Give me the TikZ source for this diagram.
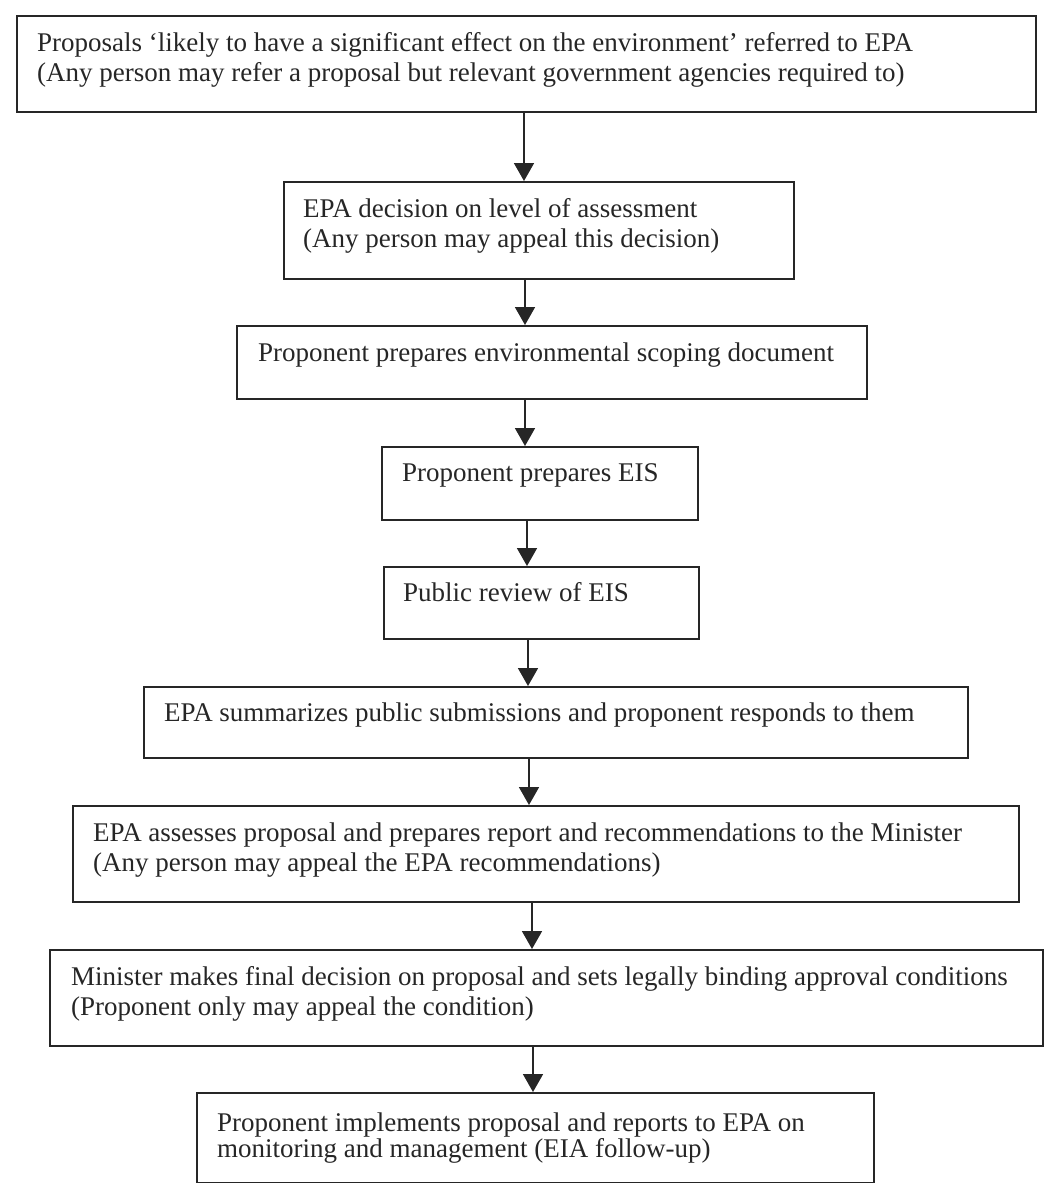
\documentclass[tikz,border=0pt]{standalone}
\usepackage{fontspec}
\setmainfont{Liberation Serif}
\usetikzlibrary{arrows.meta}
\definecolor{ink}{HTML}{262626}
\tikzset{
  stepbox/.style={draw=ink, line width=1.8pt, rectangle, inner sep=0pt, anchor=north west},
  steptext/.style={anchor=base west, inner sep=0pt, text=ink, font=\fontsize{27}{30}\selectfont},
  tighttext/.style={steptext, font=\fontsize{27}{25}\selectfont},
  flow/.style={draw=ink, line width=1.8pt, -{Triangle[length=18pt,width=20pt]}},
}
\newcommand{\lines}[1]{\begin{tabular}[t]{@{}l@{}}#1\end{tabular}}
\begin{document}
\begin{tikzpicture}[x=1pt,y=-1pt]
\useasboundingbox (0,0) rectangle (1047,1183);

% process steps, top to bottom
\node[stepbox, minimum width=1019pt, minimum height=96pt] (b1) at (16,15) {};
\node[steptext] (t1) at ([xshift=21pt,yshift=-36pt]b1.north west)
  {\lines{Proposals ‘likely to have a significant effect on the environment’ referred to EPA\\
          (Any person may refer a proposal but relevant government agencies required to)}};

\node[stepbox, minimum width=510pt, minimum height=97pt] (b2) at (283,181) {};
\node[steptext] (t2) at ([xshift=20pt,yshift=-36pt]b2.north west)
  {\lines{EPA decision on level of assessment\\ (Any person may appeal this decision)}};

\node[stepbox, minimum width=630pt, minimum height=73pt] (b3) at (236,325) {};
\node[steptext] (t3) at ([xshift=22pt,yshift=-36pt]b3.north west)
  {Proponent prepares environmental scoping document};

\node[stepbox, minimum width=316pt, minimum height=73pt] (b4) at (381,446) {};
\node[steptext] (t4) at ([xshift=21pt,yshift=-35pt]b4.north west)
  {Proponent prepares EIS};

\node[stepbox, minimum width=315pt, minimum height=72pt] (b5) at (383,566) {};
\node[steptext] (t5) at ([xshift=20pt,yshift=-35pt]b5.north west)
  {Public review of EIS};

\node[stepbox, minimum width=824pt, minimum height=71pt] (b6) at (143,686) {};
\node[steptext] (t6) at ([xshift=21pt,yshift=-35pt]b6.north west)
  {EPA summarizes public submissions and proponent responds to them};

\node[stepbox, minimum width=946pt, minimum height=96pt] (b7) at (72,805) {};
\node[steptext] (t7) at ([xshift=21pt,yshift=-36pt]b7.north west)
  {\lines{EPA assesses proposal and prepares report and recommendations to the Minister\\
          (Any person may appeal the EPA recommendations)}};

\node[stepbox, minimum width=993pt, minimum height=96pt] (b8) at (49,949) {};
\node[steptext] (t8) at ([xshift=22pt,yshift=-36pt]b8.north west)
  {\lines{Minister makes final decision on proposal and sets legally binding approval conditions\\
          (Proponent only may appeal the condition)}};

\node[stepbox, minimum width=677pt, minimum height=90pt] (b9) at (196,1092) {};
\node[tighttext] (t9) at ([xshift=21pt,yshift=-39pt]b9.north west)
  {\lines{Proponent implements proposal and reports to EPA on\\
          monitoring and management (EIA follow-up)}};

% horizontal position of each connector
\coordinate (a1) at (524,0);
\coordinate (a2) at (525,0);
\coordinate (a3) at (525,0);
\coordinate (a4) at (527,0);
\coordinate (a5) at (528,0);
\coordinate (a6) at (529,0);
\coordinate (a7) at (532,0);
\coordinate (a8) at (533,0);

\draw[flow] (b1.south -| a1) -- (b2.north -| a1);
\draw[flow] (b2.south -| a2) -- (b3.north -| a2);
\draw[flow] (b3.south -| a3) -- (b4.north -| a3);
\draw[flow] (b4.south -| a4) -- (b5.north -| a4);
\draw[flow] (b5.south -| a5) -- (b6.north -| a5);
\draw[flow] (b6.south -| a6) -- (b7.north -| a6);
\draw[flow] (b7.south -| a7) -- (b8.north -| a7);
\draw[flow] (b8.south -| a8) -- (b9.north -| a8);
\end{tikzpicture}
\end{document}
